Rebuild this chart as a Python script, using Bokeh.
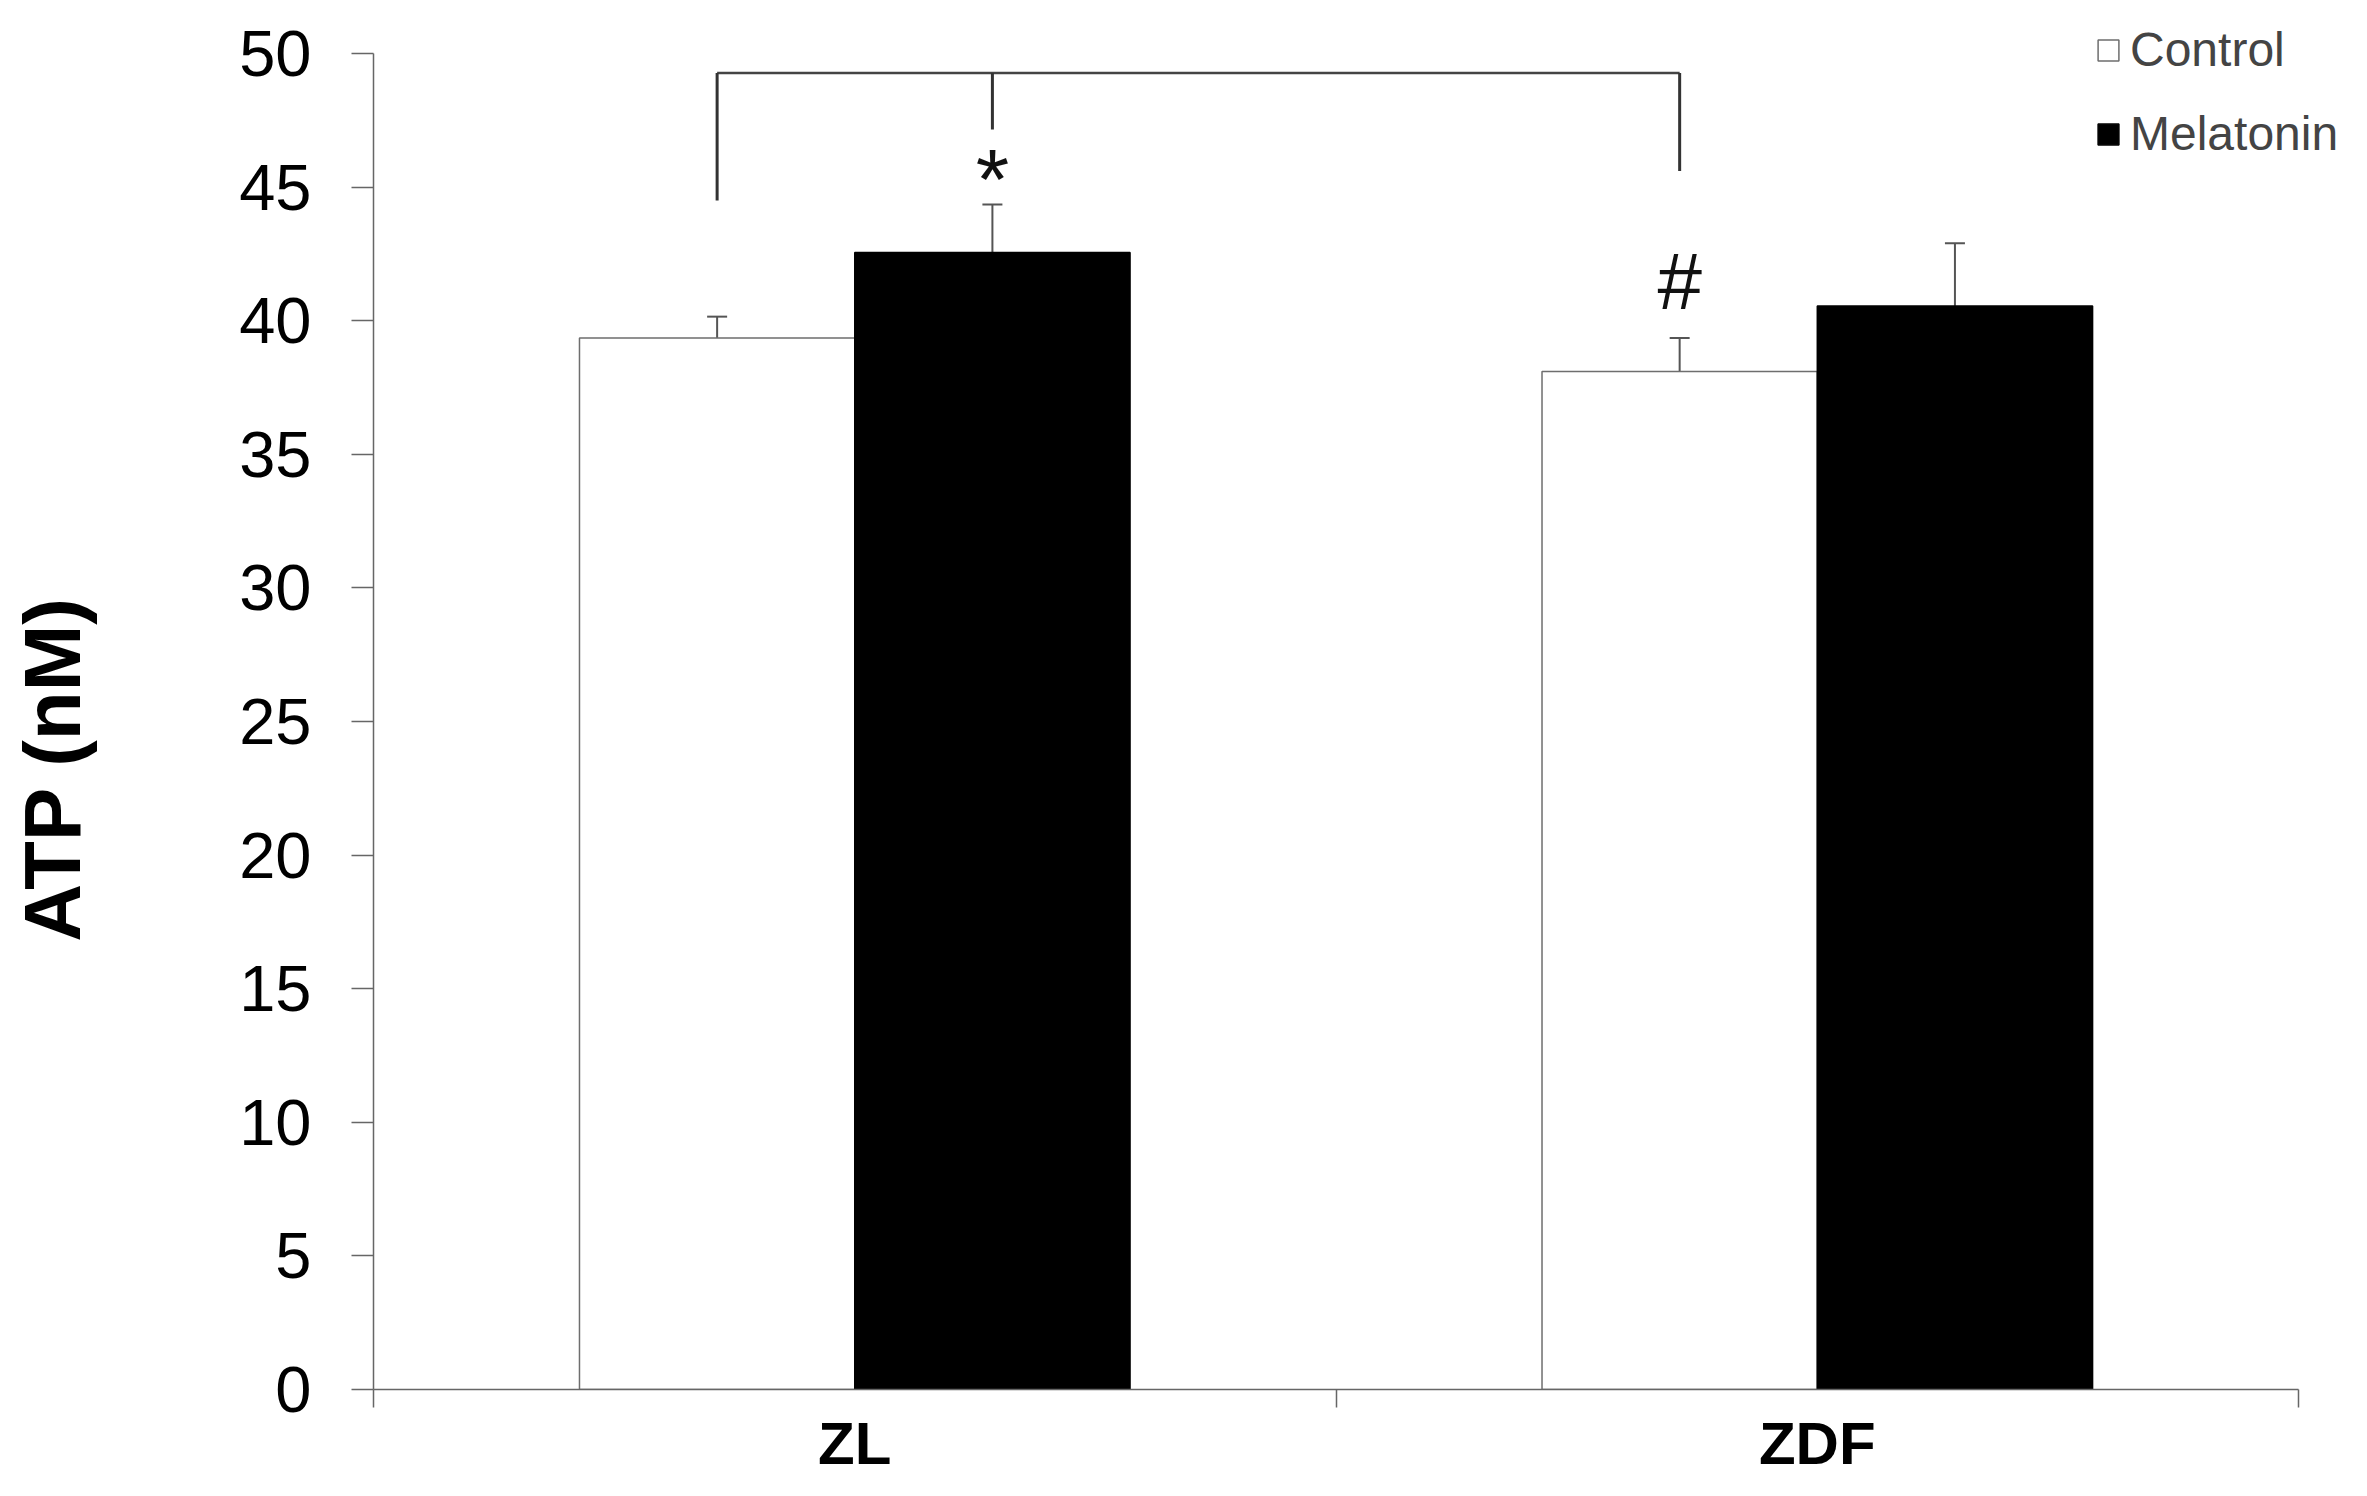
from bokeh.plotting import figure
from bokeh.models import (Range1d, FixedTicker, ColumnDataSource, Whisker, TeeHead,
                          Legend, LegendItem)
from bokeh.embed import file_html
from bokeh.resources import INLINE
from bokeh.core.properties import value

# ---- data ----
categories = ["ZL", "ZDF"]
series = ["Control", "Melatonin"]
control = [39.35, 38.1]
control_err = [0.8, 1.25]
melatonin = [42.55, 40.55]
melatonin_err = [1.8, 2.35]
y_ticks = [0, 5, 10, 15, 20, 25, 30, 35, 40, 45, 50]
group_edges = [0, 1, 2]
sig_marks = ["*", "#"]
sig_y = [45.3, 41.45]         # anchor heights of the significance marks
bracket_y = 49.27
bracket_left_low = 44.5
bracket_right_low = 45.6
bracket_mid_low = 47.15

BAR_W = 0.286
centers = [i + 0.5 for i in range(len(categories))]
x_ctrl = [c - BAR_W / 2 for c in centers]
x_mel = [c + BAR_W / 2 for c in centers]

p = figure(width=2351, height=1480, output_backend="svg", toolbar_location=None,
           x_range=Range1d(0, 2.055), y_range=Range1d(0, 51.42),
           min_border_left=373, min_border_right=0, min_border_top=15, min_border_bottom=91)
p.outline_line_color = None
p.xgrid.visible = False
p.ygrid.visible = False
p.background_fill_color = "white"

src_c = ColumnDataSource(dict(x=x_ctrl, top=control, upper=[t + e for t, e in zip(control, control_err)]))
src_m = ColumnDataSource(dict(x=x_mel, top=melatonin, upper=[t + e for t, e in zip(melatonin, melatonin_err)]))

r_c = p.vbar(x="x", top="top", width=BAR_W, source=src_c, fill_color="white",
             line_color="#6e6e6e", line_width=1.5)
r_m = p.vbar(x="x", top="top", width=BAR_W, source=src_m, fill_color="black",
             line_color="black", line_width=1.5)

for src in (src_c, src_m):
    w = Whisker(source=src, base="x", upper="upper", lower="top", dimension="height",
                line_color="#555555", line_width=2,
                upper_head=TeeHead(size=20, line_color="#555555", line_width=2),
                lower_head=None)
    p.add_layout(w)

# significance bracket
bl, br, bm = x_ctrl[0], x_ctrl[1], x_mel[0]
p.segment(x0=[bl], y0=[bracket_y], x1=[br], y1=[bracket_y], line_color="#444444", line_width=2.5)
p.segment(x0=[bl, br, bm], y0=[bracket_y, bracket_y, bracket_y],
          x1=[bl, br, bm], y1=[bracket_left_low, bracket_right_low, bracket_mid_low],
          line_color="#333333", line_width=3)

p.text(x=[x_mel[0]], y=[sig_y[0]], text=[sig_marks[0]], text_font=value("Liberation Sans"),
       text_font_size="86px", text_align="center", text_baseline="alphabetic", text_color="#111111")
p.text(x=[x_ctrl[1]], y=[sig_y[1]], text=[sig_marks[1]], text_font=value("Liberation Sans"),
       text_font_size="80px", text_align="center", text_baseline="alphabetic", text_color="#111111")

# x axis: group boundary ticks (minor) and category labels (major)
ax = p.xaxis[0]
ax.bounds = (0, 2)
ax.ticker = FixedTicker(ticks=centers, minor_ticks=group_edges)
ax.major_label_overrides = {c: lab for c, lab in zip(centers, categories)}
ax.major_label_text_font = "Liberation Sans"
ax.major_label_text_font_style = "bold"
ax.major_label_text_font_size = "60px"
ax.major_label_text_color = "black"
ax.major_label_standoff = 2
ax.major_tick_out = 0
ax.major_tick_in = 0
ax.minor_tick_out = 18
ax.minor_tick_in = 0
ax.axis_line_color = "#666666"
ax.axis_line_width = 1.5
ax.minor_tick_line_color = "#666666"
ax.minor_tick_line_width = 1.5

ay = p.yaxis[0]
ay.bounds = (0, 50)
ay.ticker = FixedTicker(ticks=y_ticks)
ay.major_label_text_font = "Liberation Sans"
ay.major_label_text_font_size = "65px"
ay.major_label_text_color = "black"
ay.major_label_standoff = 40
ay.major_tick_out = 22
ay.major_tick_in = 0
ay.minor_tick_out = 0
ay.minor_tick_in = 0
ay.axis_line_color = "#666666"
ay.axis_line_width = 1.5
ay.major_tick_line_color = "#666666"
ay.major_tick_line_width = 1.5
ay.axis_label = "ATP (nM)" + "\u00a0" * 6
ay.axis_label_text_font = "Liberation Sans"
ay.axis_label_text_font_style = "bold"
ay.axis_label_text_font_size = "80px"
ay.axis_label_text_color = "black"
ay.axis_label_standoff = 139

legend = Legend(items=[LegendItem(label=series[0], renderers=[r_c]),
                       LegendItem(label=series[1], renderers=[r_m])],
                location=(1722, 1228), background_fill_alpha=0, border_line_color=None,
                padding=0, margin=0, spacing=29, label_text_font="Liberation Sans",
                label_text_font_size="48px", glyph_width=26, glyph_height=26,
                label_standoff=9, label_height=55)
p.add_layout(legend)

open("out.html", "w").write(file_html(p, INLINE))
